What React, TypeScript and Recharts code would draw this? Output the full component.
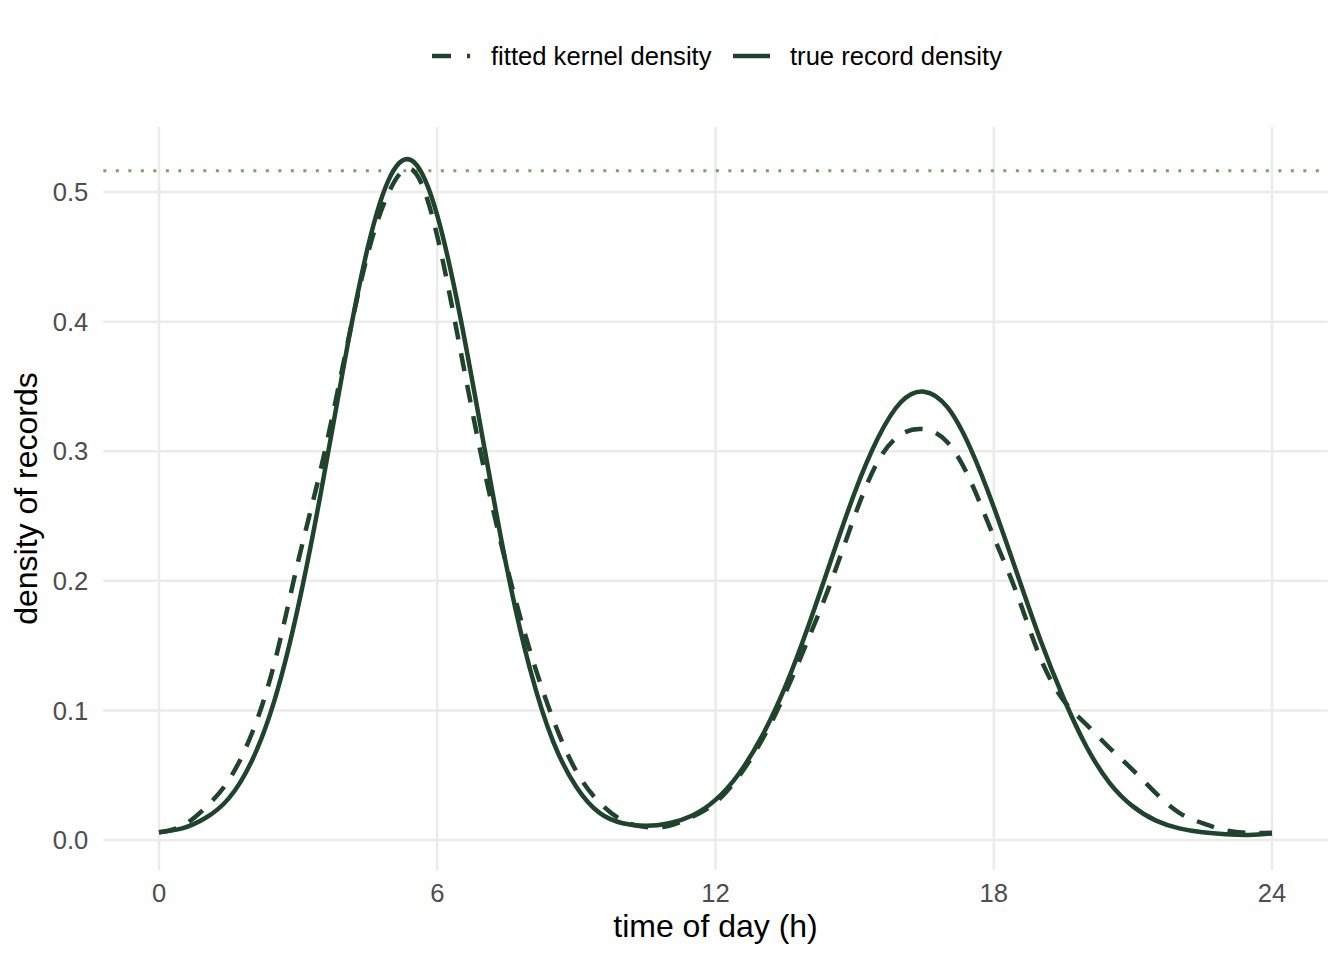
import React from 'react';
import { LineChart, Line, XAxis, YAxis, CartesianGrid, ReferenceLine, Label } from 'recharts';

// hour of day, sampled every half hour
const hours = [
  0, 0.5, 1, 1.5, 2, 2.5, 3, 3.5, 4, 4.5, 5, 5.5, 6, 6.5, 7, 7.5, 8, 8.5, 9, 9.5,
  10, 10.5, 11, 11.5, 12, 12.5, 13, 13.5, 14, 14.5, 15, 15.5, 16, 16.5, 17, 17.5,
  18, 18.5, 19, 19.5, 20, 20.5, 21, 21.5, 22, 22.5, 23, 23.5, 24,
];

const trueDensity = [
  0.006, 0.009, 0.017, 0.032, 0.061, 0.109, 0.180, 0.270, 0.369, 0.457, 0.513, 0.523,
  0.482, 0.403, 0.306, 0.210, 0.132, 0.076, 0.041, 0.021, 0.013, 0.011, 0.013, 0.019,
  0.031, 0.051, 0.080, 0.118, 0.165, 0.217, 0.268, 0.310, 0.338, 0.346, 0.334, 0.302,
  0.257, 0.206, 0.155, 0.110, 0.072, 0.044, 0.026, 0.015, 0.009, 0.006, 0.0045, 0.004,
  0.005,
];

const fittedDensity = [
  0.006, 0.011, 0.025, 0.046, 0.082, 0.138, 0.215, 0.288, 0.372, 0.452, 0.503, 0.516,
  0.466, 0.378, 0.288, 0.211, 0.146, 0.093, 0.053, 0.029, 0.015, 0.010, 0.011, 0.018,
  0.029, 0.049, 0.077, 0.113, 0.155, 0.200, 0.250, 0.292, 0.313, 0.317, 0.307, 0.277,
  0.234, 0.190, 0.141, 0.108, 0.089, 0.071, 0.054, 0.036, 0.021, 0.013, 0.0075, 0.0055,
  0.0057,
];

const xTicks = [0, 6, 12, 18, 24];
const yTicks = [0, 0.1, 0.2, 0.3, 0.4, 0.5];
const peakLevel = 0.5164;

const data = hours.map((h, i) => ({
  hour: h,
  truth: trueDensity[i],
  fitted: fittedDensity[i],
}));

const LINE = '#1f432b';
const DOT = '#869c66';
const FONT = '"Liberation Sans", Arial, Helvetica, sans-serif';

const YTitle = () => (
  <text
    x={37}
    y={498.5}
    transform="rotate(-90, 37, 498.5)"
    textAnchor="middle"
    fontSize={32}
    fontFamily={FONT}
    fill="#000000"
  >
    density of records
  </text>
);

export default function App() {
  return (
    <div style={{ position: 'absolute', left: 0, top: 0, width: 1344, height: 960, background: '#fff', fontFamily: FONT }}>
      {/* legend, drawn on top */}
      <svg width={1344} height={100} style={{ position: 'absolute', left: 0, top: 0 }}>
        <line x1={432} x2={470} y1={56} y2={56} stroke={LINE} strokeWidth={4.5} strokeDasharray="19 16" />
        <text x={491} y={65} fontSize={25.6} fontFamily={FONT} fill="#000">fitted kernel density</text>
        <line x1={733} x2={770} y1={56} y2={56} stroke={LINE} strokeWidth={4.5} />
        <text x={790} y={65} fontSize={25.6} fontFamily={FONT} fill="#000">true record density</text>
      </svg>
      <LineChart
        width={1344}
        height={960}
        data={data}
        margin={{ top: 127, right: 16.35, left: 0, bottom: 0 }}
      >
        <CartesianGrid stroke="#EBEBEB" strokeWidth={2.5} syncWithTicks />
        <XAxis
          dataKey="hour"
          type="number"
          domain={[-1.2, 25.2]}
          ticks={xTicks}
          allowDataOverflow
          axisLine={false}
          tickLine={false}
          tickSize={0}
          tickMargin={14}
          height={90}
          tick={{ fill: '#4D4D4D', fontSize: 25.6, fontFamily: FONT }}
        >
          <Label
            value="time of day (h)"
            position="insideBottom"
            offset={23}
            style={{ fontSize: 32, fontFamily: FONT, fill: '#000' }}
          />
        </XAxis>
        <YAxis
          type="number"
          domain={[-0.0231, 0.5502]}
          ticks={yTicks}
          allowDataOverflow
          axisLine={false}
          tickLine={false}
          tickSize={0}
          tickMargin={15}
          width={103.35}
          tickFormatter={(v: number) => v.toFixed(1)}
          tick={{ fill: '#4D4D4D', fontSize: 25.6, fontFamily: FONT }}
        >
          <Label content={<YTitle />} />
        </YAxis>
        <ReferenceLine
          y={peakLevel}
          stroke={DOT}
          strokeWidth={3}
          strokeDasharray="3 9.5"
        />
        <Line
          dataKey="fitted"
          type="natural"
          stroke={LINE}
          strokeWidth={4.5}
          strokeDasharray="18 14"
          dot={false}
          activeDot={false}
          isAnimationActive={false}
        />
        <Line
          dataKey="truth"
          type="natural"
          stroke={LINE}
          strokeWidth={4.5}
          dot={false}
          activeDot={false}
          isAnimationActive={false}
        />
      </LineChart>
    </div>
  );
}
